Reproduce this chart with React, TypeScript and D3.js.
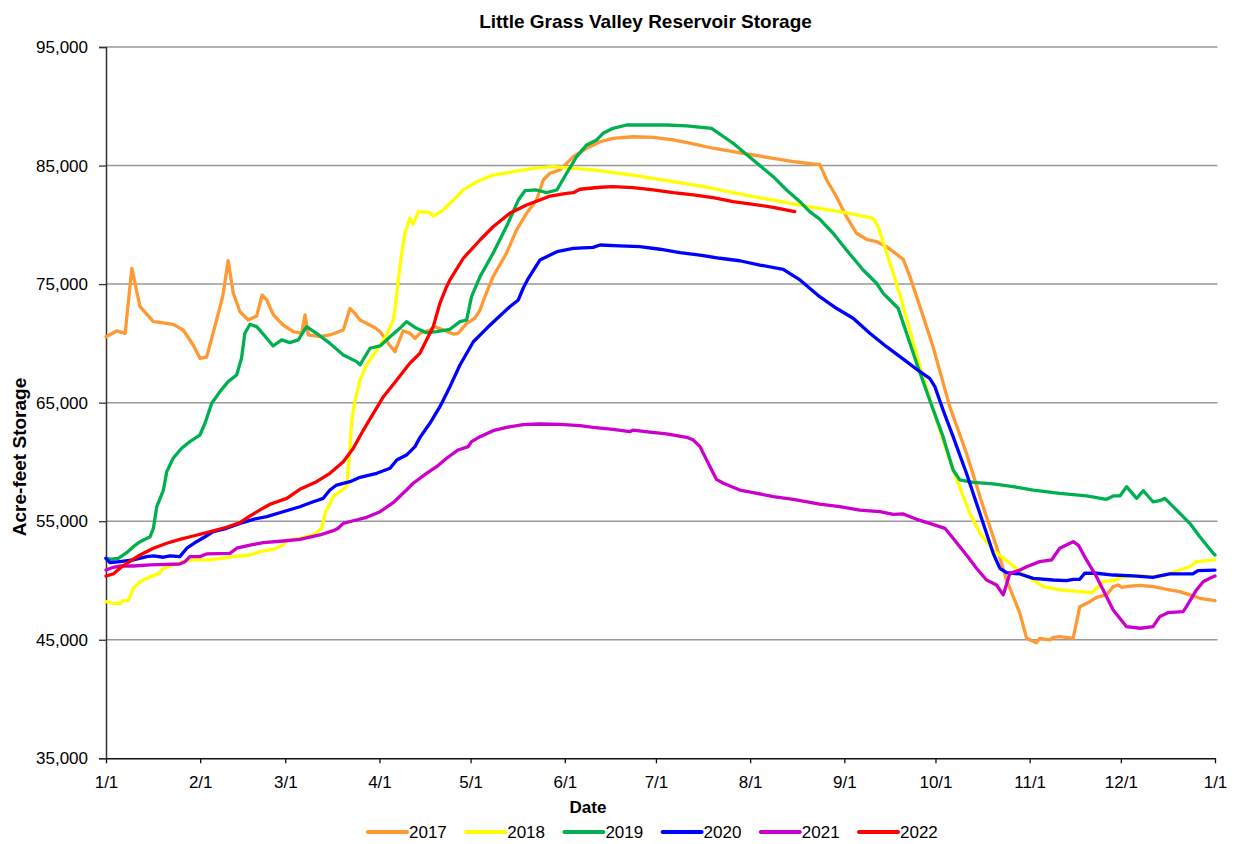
import { useEffect, useRef } from "react";
import * as d3 from "d3";

type Pt = [number, number]; // [day of year, acre-feet]

const years = ["2017", "2018", "2019", "2020", "2021", "2022"];
const colors = ["#FF9933", "#FFFF00", "#00B050", "#0000FF", "#CC00CC", "#FF0000"];
const monthDays = [0, 31, 59, 90, 120, 151, 181, 212, 243, 273, 304, 334, 365];
const monthLabels = ["1/1", "2/1", "3/1", "4/1", "5/1", "6/1", "7/1", "8/1", "9/1", "10/1", "11/1", "12/1", "1/1"];
const yTicks = [35000, 45000, 55000, 65000, 75000, 85000, 95000];

const s2017: Pt[] = [
  [0, 70560], [3.5, 71050], [6.3, 70850], [8.5, 76330], [11.2, 73100], [15.6, 71830], [18.3, 71750],
  [22.1, 71600], [25.4, 71130], [28.7, 69860], [30.9, 68740], [33.1, 68830], [36.4, 71970], [38.4, 73940],
  [40.2, 76980], [41.9, 74230], [44.1, 72670], [46.8, 71970], [49.6, 72310], [51.4, 74080], [52.9, 73660],
  [55.1, 72400], [58.3, 71550], [61.6, 70990], [64.4, 70850], [65.5, 72400], [66.6, 70710], [70.4, 70560],
  [73.7, 70710], [78.1, 71130], [80.3, 72950], [81.9, 72530], [83.6, 71970], [88.5, 71320], [90.2, 70990],
  [92.9, 70000], [95.1, 69300], [97.8, 71070], [100, 70850], [101.7, 70430], [103.3, 70850], [106.6, 71130],
  [108.3, 71410], [111, 71130], [114.3, 70790], [115.9, 70850], [118.7, 71690], [121.4, 72120], [123.1, 72810],
  [124.7, 73940], [127.4, 75630], [131.8, 77600], [135.1, 79560], [138.4, 80970], [141.7, 82090], [143.9, 83780],
  [146.1, 84350], [149.4, 84630], [151.6, 85190], [153.8, 85750], [158.2, 86460], [162.6, 87010], [166.9, 87300],
  [173.5, 87430], [180.1, 87380], [186.7, 87160], [193.3, 86820], [199.8, 86460], [206.4, 86170], [213, 85890],
  [219.6, 85610], [226.2, 85330], [232.7, 85130], [234.9, 85100], [237.2, 83780], [240.4, 82370], [243.7, 80690],
  [247, 79290], [250.3, 78780], [253.6, 78580], [256.9, 78160], [262.4, 77090], [264.6, 75630], [267.9, 73100],
  [272.2, 69720], [277.7, 64660], [283.2, 60730], [288.7, 56220], [293.1, 52850], [296.4, 50040], [300.8, 47230],
  [303, 45120], [306.2, 44750], [307.3, 45120], [310.6, 44980], [311.7, 45200], [313.9, 45260], [318.3, 45120],
  [320.5, 47790], [323.8, 48210], [326, 48580], [329.3, 48780], [331.5, 49480], [333.1, 49620], [334.3, 49420],
  [337, 49530], [340.4, 49590], [344.6, 49480], [350.1, 49200], [353.4, 49060], [356.7, 48780], [360, 48500],
  [365, 48300],
];

const s2018: Pt[] = [
  [0, 48210], [2.4, 48070], [4.6, 48070], [5.7, 48300], [7.3, 48300], [9, 49340], [11.2, 49900], [14.5, 50320],
  [17.5, 50600], [18.9, 51030], [22.1, 51310], [25.4, 51590], [28.7, 51730], [34.2, 51730], [41.9, 52010],
  [47.4, 52150], [50.7, 52430], [55, 52630], [58.3, 52990], [59.5, 53410], [63.8, 53550], [68.2, 53840],
  [71, 54400], [72.1, 55670], [74.8, 57070], [77, 57490], [79.2, 57910], [79.8, 59600], [80.9, 63540],
  [82, 65220], [83.6, 66910], [85.8, 68180], [89.1, 69440], [92.4, 70710], [94.5, 71970], [95.1, 72820],
  [96.2, 75350], [97.3, 77600], [98.4, 79290], [100, 80550], [101.1, 80070], [102.8, 81110], [106.6, 81030],
  [107.7, 80740], [111, 81250], [114.3, 82090], [117.6, 82940], [122, 83640], [127.4, 84200], [134, 84480],
  [140.6, 84770], [147.2, 84910], [153.8, 84770], [160.3, 84630], [166.9, 84400], [173.5, 84200], [180.1, 83920],
  [186.7, 83640], [193.3, 83360], [199.8, 83080], [206.4, 82710], [213, 82370], [219.6, 82090], [226.2, 81760],
  [232.7, 81480], [241.5, 81110], [247, 80830], [252.5, 80550], [254.1, 79840], [256.3, 78160], [259.1, 75910],
  [261.8, 73660], [267.9, 68040], [273.3, 63540], [278.8, 59320], [284.3, 55670], [287.6, 53980], [292, 52570],
  [297.5, 51450], [303, 50320], [305.2, 50040], [308.5, 49480], [313.9, 49200], [320.5, 49060], [324.4, 48970],
  [326, 49340], [328.2, 49900], [331.5, 49990], [334.8, 50320], [340.4, 50380], [344.6, 50320], [349, 50460],
  [353.4, 50880], [356.7, 51160], [358.9, 51590], [365, 51730],
];

const s2019: Pt[] = [
  [0, 51870], [1.9, 51790], [4, 51870], [6.8, 52340], [9, 52850], [11.2, 53270], [14.5, 53690], [15.6, 54400],
  [16.7, 56220], [18.9, 57630], [20, 59180], [22.1, 60310], [24.9, 61150], [27.6, 61710], [30.9, 62270],
  [32.6, 63260], [34.8, 64950], [37.5, 65930], [40.2, 66770], [43, 67330], [44.6, 68740], [45.7, 70850],
  [47.4, 71610], [49.6, 71410], [52.9, 70430], [55, 69780], [57.8, 70290], [60.5, 70060], [63.3, 70290],
  [66, 71410], [69.3, 70850], [73.7, 70000], [78.1, 69020], [82.5, 68460], [83.6, 68180], [86.9, 69590],
  [90.2, 69780], [93.5, 70560], [96.7, 71270], [98.9, 71830], [102.2, 71270], [105.5, 70900], [108.8, 70990],
  [113.2, 71190], [116.5, 71830], [118.7, 71970], [120.3, 73940], [123.1, 75630], [127.4, 77600], [131.8, 79850],
  [135.7, 82090], [137.9, 82880], [141.7, 82940], [145, 82710], [148.4, 82940], [151.6, 84350], [154.9, 85750],
  [158.2, 86740], [161.5, 87160], [163.6, 87720], [166.9, 88140], [171.3, 88420], [177.9, 88420], [184.5, 88420],
  [191.1, 88340], [199.3, 88140], [206.4, 86880], [213, 85470], [219.6, 84060], [224, 82940], [228.4, 81950],
  [231.6, 81110], [234.9, 80480], [239.3, 79290], [243.7, 77880], [249.2, 76190], [253.6, 75070], [255.8, 74220],
  [258, 73660], [260.7, 72960], [262.4, 71690], [266.8, 68320], [271.1, 65220], [275.5, 62130], [278.8, 59320],
  [281, 58480], [285.4, 58280], [292, 58140], [298.6, 57910], [305.2, 57630], [313.9, 57350], [322.7, 57130],
  [329.3, 56850], [331.5, 57130], [333.7, 57130], [335.9, 57910], [339.2, 56930], [341.4, 57570], [344.6, 56640],
  [346.8, 56730], [348.5, 56930], [353.4, 55670], [356.7, 54820], [360, 53690], [364.4, 52290], [365, 52150],
];

const s2020: Pt[] = [
  [0, 51870], [1.3, 51500], [4.6, 51590], [9, 51730], [13.4, 52010], [15.6, 52070], [18.9, 51960], [21.1, 52070],
  [24.3, 52010], [26.6, 52720], [29.8, 53270], [32.6, 53690], [35.3, 54120], [39.7, 54400], [44.1, 54820],
  [48.5, 55160], [52.9, 55380], [58.3, 55800], [63.8, 56220], [68.2, 56640], [71.5, 56930], [73.7, 57630],
  [75.9, 58050], [80.3, 58330], [83.6, 58700], [89.1, 59040], [93.5, 59460], [95.7, 60160], [98.9, 60580],
  [101.7, 61290], [103.3, 62050], [106.6, 63260], [109.9, 64660], [113.2, 66350], [116.5, 68180], [120.9, 70140],
  [125.3, 71270], [129.6, 72310], [132.9, 73090], [135.7, 73660], [137.3, 74650], [139, 75490], [142.8, 77030],
  [148.4, 77730], [153.8, 78020], [160.3, 78100], [162.6, 78300], [169.1, 78220], [175.7, 78160], [182.3, 77940],
  [188.9, 77650], [195.5, 77450], [202.1, 77180], [208.6, 76970], [215.2, 76610], [222.9, 76250], [228.4, 75350],
  [234.9, 73940], [240.4, 72960], [245.9, 72120], [251.4, 70850], [256.9, 69720], [263.5, 68460], [267.9, 67610],
  [271.1, 67050], [272.8, 66350], [275.5, 64380], [278.8, 62130], [283.2, 59040], [287.6, 55670], [292, 52290],
  [294.2, 51030], [296.4, 50660], [300.8, 50550], [305.2, 50180], [311.7, 50040], [316.1, 49980], [318.3, 50100],
  [320.5, 50100], [322.1, 50610], [326, 50610], [331.5, 50460], [338.1, 50380], [344.6, 50270], [346.8, 50380],
  [350.1, 50550], [357.7, 50550], [359.4, 50830], [365, 50880],
];

const s2021: Pt[] = [
  [0, 50880], [2.4, 51110], [4.6, 51220], [9, 51220], [14.5, 51310], [20, 51360], [24.3, 51390], [26, 51590],
  [27.6, 52010], [30.9, 52010], [33.1, 52240], [40.8, 52290], [43, 52720], [47.4, 52990], [51.8, 53190],
  [58.3, 53330], [63.8, 53470], [70.4, 53840], [74.8, 54200], [76.4, 54400], [78.1, 54820], [81.4, 55040],
  [85.8, 55330], [90.2, 55800], [94.5, 56560], [98.9, 57630], [101.1, 58200], [105.5, 59040], [108.8, 59600],
  [112.1, 60310], [115.9, 61010], [119.2, 61290], [120.3, 61710], [123.1, 62130], [127.4, 62640], [131.8, 62920],
  [137.3, 63140], [142.8, 63200], [149.4, 63170], [156, 63060], [160.3, 62920], [166.9, 62750], [172.4, 62550],
  [173.5, 62690], [179, 62520], [184.5, 62360], [191.1, 62080], [193.3, 61850], [195.5, 61290], [198.8, 59600],
  [200.9, 58530], [203.2, 58200], [208.6, 57630], [213, 57410], [219.6, 57070], [226.2, 56850], [234.9, 56450],
  [241.5, 56220], [248.1, 55940], [254.7, 55800], [259.1, 55580], [262.4, 55610], [266.8, 55160], [271.1, 54820],
  [276.1, 54400], [278.8, 53560], [283.2, 52150], [286.5, 51030], [289.8, 50040], [293.1, 49620], [295.3, 48780],
  [297.5, 50600], [300.8, 50880], [303, 51160], [307.3, 51590], [311.2, 51730], [313.9, 52720], [318.3, 53270],
  [320, 52990], [322.7, 51730], [326, 50320], [331.5, 47510], [335.9, 46100], [340.4, 45970], [344.6, 46100],
  [346.8, 46950], [349.5, 47280], [354.5, 47370], [355.6, 47790], [358.9, 49200], [361.1, 49900], [363.3, 50190],
  [365, 50380],
];

const s2022: Pt[] = [
  [0, 50380], [2.4, 50550], [4.6, 51030], [6.8, 51450], [11.2, 52150], [15.6, 52720], [20, 53140], [24.3, 53470],
  [28.7, 53750], [33.1, 54030], [39.7, 54490], [44.1, 54880], [47.4, 55440], [50.7, 55950], [54, 56430],
  [59.5, 56930], [63.8, 57690], [69.3, 58330], [73.7, 59040], [78.1, 60020], [81.4, 61150], [84.7, 62690],
  [88, 64100], [91.3, 65500], [95.7, 66910], [100, 68320], [103.3, 69160], [105.5, 70290], [107.7, 71410],
  [109.9, 73380], [112.1, 74780], [113.2, 75350], [117.6, 77180], [123.1, 78720], [127.4, 79840], [132.9, 80970],
  [138.4, 81670], [142.8, 82090], [146.1, 82430], [151.6, 82660], [153.8, 82710], [156, 83000], [162.6, 83170],
  [166.9, 83220], [173.5, 83130], [180.1, 82940], [186.7, 82710], [193.3, 82520], [199.8, 82290], [206.4, 81950],
  [213, 81730], [219.6, 81480], [226.7, 81110],
];

const seriesData = [s2017, s2018, s2019, s2020, s2021, s2022];

export default function App() {
  const ref = useRef<SVGSVGElement>(null);

  useEffect(() => {
    const W = 1241;
    const H = 844;
    const left = 106;
    const right = 1215;
    const top = 47;
    const bottom = 758.3;
    const font = "'Liberation Sans', Arial, sans-serif";

    const svg = d3.select(ref.current);
    svg.selectAll("*").remove();
    svg.attr("width", W).attr("height", H);

    const x = d3.scaleLinear().domain([0, 365]).range([left, right]);
    const y = d3.scaleLinear().domain([35000, 95000]).range([bottom, top]);

    // gridlines
    svg
      .append("g")
      .selectAll("line")
      .data(yTicks.slice(1))
      .join("line")
      .attr("x1", left)
      .attr("x2", right + 2.5)
      .attr("y1", (d) => y(d))
      .attr("y2", (d) => y(d))
      .attr("stroke", "#999999")
      .attr("stroke-width", 1.5);

    // y axis
    const yAxis = svg
      .append("g")
      .attr("transform", `translate(${left},0)`)
      .call(
        d3
          .axisLeft(y)
          .tickValues(yTicks)
          .tickSize(7)
          .tickFormat((d) => d3.format(",")(d as number))
      );
    yAxis.select(".domain").attr("stroke", "#333").attr("stroke-width", 1.5);
    yAxis.selectAll(".tick line").attr("stroke", "#333").attr("stroke-width", 1.3);
    yAxis
      .selectAll(".tick text")
      .attr("x", -18)
      .attr("font-family", font)
      .attr("font-size", 17)
      .attr("fill", "#000");

    // x axis
    const xAxis = svg
      .append("g")
      .attr("transform", `translate(0,${bottom})`)
      .call(
        d3
          .axisBottom(x)
          .tickValues(monthDays)
          .tickSize(5)
          .tickSizeOuter(0)
          .tickFormat((_d, i) => monthLabels[i])
      );
    xAxis.select(".domain").attr("stroke", "#111").attr("stroke-width", 1.5);
    xAxis.selectAll(".tick line").attr("stroke", "#111").attr("stroke-width", 1.3);
    xAxis
      .selectAll(".tick text")
      .attr("y", 18)
      .attr("font-family", font)
      .attr("font-size", 17)
      .attr("fill", "#000");

    // series lines
    const line = d3
      .line<Pt>()
      .x((d) => x(d[0]))
      .y((d) => y(d[1]));

    seriesData.forEach((data, i) => {
      svg
        .append("path")
        .datum(data)
        .attr("fill", "none")
        .attr("stroke", colors[i])
        .attr("stroke-width", 3.3)
        .attr("stroke-linejoin", "round")
        .attr("stroke-linecap", "round")
        .attr("d", line);
    });

    // title
    svg
      .append("text")
      .attr("x", 645.5)
      .attr("y", 28)
      .attr("text-anchor", "middle")
      .attr("font-family", font)
      .attr("font-weight", "bold")
      .attr("font-size", 19)
      .text("Little Grass Valley Reservoir Storage");

    // axis titles
    svg
      .append("text")
      .attr("transform", "translate(26,457) rotate(-90)")
      .attr("text-anchor", "middle")
      .attr("font-family", font)
      .attr("font-weight", "bold")
      .attr("font-size", 19)
      .text("Acre-feet Storage");

    svg
      .append("text")
      .attr("x", 588)
      .attr("y", 813)
      .attr("text-anchor", "middle")
      .attr("font-family", font)
      .attr("font-weight", "bold")
      .attr("font-size", 17)
      .text("Date");

    // legend
    const legend = svg
      .append("g")
      .selectAll("g")
      .data(years)
      .join("g")
      .attr("transform", (_d, i) => `translate(${368 + i * 98.2},832)`);
    legend
      .append("line")
      .attr("x1", 0)
      .attr("x2", 39)
      .attr("stroke", (_d, i) => colors[i])
      .attr("stroke-width", 4)
      .attr("stroke-linecap", "round");
    legend
      .append("text")
      .attr("x", 41)
      .attr("y", 6)
      .attr("font-family", font)
      .attr("font-size", 17)
      .text((d) => d);
  }, []);

  return <svg ref={ref} style={{ position: "absolute", left: 0, top: 0 }}></svg>;
}
